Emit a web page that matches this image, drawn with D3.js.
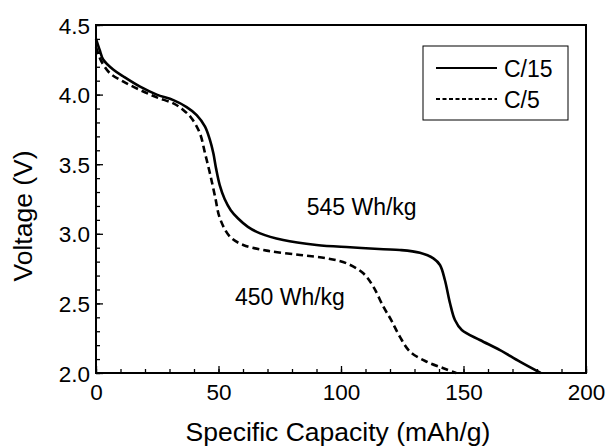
<!DOCTYPE html>
<html>
<head>
<meta charset="utf-8">
<script src="https://cdn.jsdelivr.net/npm/d3@7"></script>
<style>
html,body{margin:0;padding:0;background:#fff;}
svg{display:block;font-family:"Liberation Sans",Arial,sans-serif;}
</style>
</head>
<body>
<svg id="chart" width="608" height="446"></svg>
<script>
// Data
const c15Capacity = [0, 1.5, 3, 7, 11.2, 18, 24.8, 31.6, 37, 41.1, 44.5, 46.5, 47.9, 49, 50.5, 52.5, 55, 58, 62, 67, 76.4, 90, 103.7, 117.3, 124, 132.2, 137.7, 140.4, 142.4, 144.5, 146.5, 149.3, 156.7, 164.9, 173, 181.5];
const c15Voltage  = [4.40, 4.32, 4.25, 4.18, 4.13, 4.057, 4.0, 3.96, 3.91, 3.853, 3.77, 3.674, 3.578, 3.47, 3.35, 3.25, 3.17, 3.11, 3.05, 3.003, 2.955, 2.92, 2.903, 2.889, 2.884, 2.864, 2.824, 2.776, 2.668, 2.501, 2.381, 2.309, 2.237, 2.165, 2.081, 2.0];
const c5Capacity  = [0, 1, 2.3, 5.7, 11.2, 18, 24.8, 31.6, 35.6, 39, 42.4, 44.5, 46.5, 48.6, 50.6, 54.7, 60.1, 69.7, 83.3, 94.2, 102.3, 109.1, 113.2, 117.3, 120.5, 124, 128.2, 135, 141.8, 147];
const c5Voltage   = [4.34, 4.29, 4.236, 4.153, 4.093, 4.033, 3.98, 3.937, 3.89, 3.83, 3.722, 3.578, 3.435, 3.267, 3.11, 2.979, 2.92, 2.879, 2.848, 2.824, 2.788, 2.716, 2.62, 2.476, 2.38, 2.261, 2.153, 2.081, 2.034, 2.0];
const xTicks = [0, 50, 100, 150, 200];
const yTicks = [2.0, 2.5, 3.0, 3.5, 4.0, 4.5];
const seriesNames = ["C/15", "C/5"];
const annotations = [{text: "545 Wh/kg", x: 86, y: 3.135}, {text: "450 Wh/kg", x: 56.7, y: 2.49}];

const svg = d3.select("#chart");
const L = 96, R = 586, T = 25, B = 373;
const x = d3.scaleLinear().domain([0, 200]).range([L, R]);
const y = d3.scaleLinear().domain([2.0, 4.5]).range([B, T]);

// Minor/major ticks pointing inward
const xAxis = d3.axisBottom(x).tickValues(d3.range(0, 201, 10)).tickSize(-4).tickFormat("");
const xMajor = d3.axisBottom(x).tickValues(xTicks).tickSize(-7).tickPadding(14).tickFormat(d3.format("d"));
const yAxis = d3.axisLeft(y).tickValues(d3.range(20, 46, 1).map(v => v / 10)).tickSize(-4).tickFormat("");
const yMajor = d3.axisLeft(y).tickValues(yTicks).tickSize(-7).tickPadding(14).tickFormat(d3.format(".1f"));

function style(g){
  g.select(".domain").remove();
  g.selectAll("line").attr("stroke", "#000").attr("stroke-width", 1.3);
  g.selectAll("text").attr("fill", "#000").style("font-size", "22.5px").style("font-family", "'Liberation Sans',Arial,sans-serif");
}
svg.append("g").attr("transform", `translate(0,${B})`).call(xAxis).call(style);
svg.append("g").attr("transform", `translate(0,${B})`).call(xMajor).call(style)
  .selectAll("text").attr("y", 11).attr("dy", "0.71em");
svg.append("g").attr("transform", `translate(${L},0)`).call(yAxis).call(style);
svg.append("g").attr("transform", `translate(${L},0)`).call(yMajor).call(style)
  .selectAll("text").attr("x", -6).attr("dy", "0.36em");

// Frame
svg.append("rect").attr("x", L).attr("y", T).attr("width", R - L).attr("height", B - T)
  .attr("fill", "none").attr("stroke", "#000").attr("stroke-width", 2);

const line = d3.line().x(d => x(d[0])).y(d => y(d[1])).curve(d3.curveCatmullRom.alpha(0.5));
const c15 = c15Capacity.map((c, i) => [c, c15Voltage[i]]);
const c5 = c5Capacity.map((c, i) => [c, c5Voltage[i]]);
svg.append("path").datum(c15).attr("d", line).attr("fill", "none").attr("stroke", "#000").attr("stroke-width", 2.6);
svg.append("path").datum(c5).attr("d", line).attr("fill", "none").attr("stroke", "#000").attr("stroke-width", 2.6).attr("stroke-dasharray", "7,4");

// Annotations
annotations.forEach(a => {
  svg.append("text").attr("x", x(a.x)).attr("y", y(a.y)).text(a.text)
    .style("font-size", "23px").attr("fill", "#000");
});

// Axis titles
svg.append("text").attr("x", (L + R) / 2 - 3).attr("y", 441).attr("text-anchor", "middle")
  .style("font-size", "26.5px").text("Specific Capacity (mAh/g)");
svg.append("text").attr("transform", "translate(32,216) rotate(-90)").attr("text-anchor", "middle")
  .style("font-size", "26.5px").text("Voltage (V)");

// Legend
const lg = svg.append("g");
lg.append("rect").attr("x", 423).attr("y", 46).attr("width", 145).attr("height", 74)
  .attr("fill", "#fff").attr("stroke", "#000").attr("stroke-width", 1);
const legendRows = [{name: seriesNames[0], dash: null, yy: 68}, {name: seriesNames[1], dash: "4,2.5", yy: 99}];
legendRows.forEach(r => {
  lg.append("line").attr("x1", 436).attr("x2", 497).attr("y1", r.yy).attr("y2", r.yy)
    .attr("stroke", "#000").attr("stroke-width", 2.2).attr("stroke-dasharray", r.dash);
  lg.append("text").attr("x", 504).attr("y", r.yy + 8.5).style("font-size", "23px").text(r.name);
});
</script>
</body>
</html>
